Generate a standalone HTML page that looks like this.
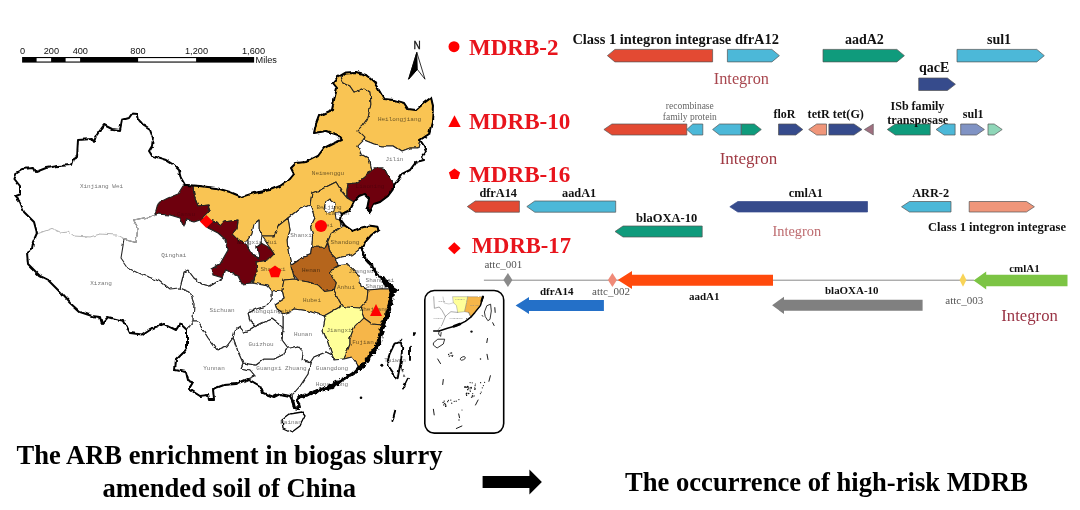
<!DOCTYPE html>
<html lang="en"><head><meta charset="utf-8"><title>Graphical abstract</title>
<style>html,body{margin:0;padding:0;background:#fff}svg{display:block;filter:blur(0.4px)}</style></head>
<body>
<svg width="1080" height="510" viewBox="0 0 1080 510">
<rect width="1080" height="510" fill="#fff"/>
<defs><filter id="rough" x="-2%" y="-2%" width="104%" height="104%"><feTurbulence type="fractalNoise" baseFrequency="0.14" numOctaves="2" seed="7" result="n"/><feDisplacementMap in="SourceGraphic" in2="n" scale="3.4" xChannelSelector="R" yChannelSelector="G"/></filter><filter id="rough3" x="-5%" y="-5%" width="110%" height="110%"><feTurbulence type="fractalNoise" baseFrequency="0.5" numOctaves="2" seed="5" result="n"/><feDisplacementMap in="SourceGraphic" in2="n" scale="1.6" xChannelSelector="R" yChannelSelector="G"/></filter></defs>
<g id="map" stroke-linejoin="round" stroke-linecap="round" filter="url(#rough)">
<polygon points="15,196 20,194 20,186 14.4,179 17,172 22,169 34,168 36,172 46,168 58,166 71,165 73,159 77,157 78,140 92,139 94,142 96,136 104,125 112,129 120,130 122,120 129,118 132,113.6 137.6,114 139,120 144,126 150,130 153,138 152,146 149,151 152,155.6 166,160 174,165 179,170 181,178 185,185 186,185 200,186 216,188 230,192 242,197 254,193 270,190 280,186 290,179 294,174 291,168 296,163 306,162 310,160 318,156 324,148 334,143 342,140 338,135 326,131 314,133 316,124 319,116 332,110 334,100 337,88 333,83 338,77 346,72.4 356,72 366,75 374,82 380,92 384,99 394,100 404,103 408,109 416,110 424,103 431,97.6 433,106 432,122 429,134 420,140 424,146 426,152 422,157 424,160 416,162 410,170 402,174 398,180 394,185 394,188 388,196 380,202 374,204 370,212 367,208 369,198 365,194 360,196 354,202 350,210 342,214 341,220 345,225.6 352.6,231 361.2,227.7 368.7,225.6 377.4,226.7 378.4,230 371,235.3 365.5,241.8 361.2,248.2 364.4,257 372,265.5 376.3,274 385,280.6 390,286 391,289 390,300 386,316 382,325 380.5,333 377.5,345 371,354 364.5,363 360,368 352,374 342,380 332,387 320,390 310,394 299,397 297,400 299,409 294,408 292,400 290,396 280,394 274,397 263,393 260,386 248,379 236,384 224,385 213,389 214,400 209,400 208,395 200,396 189,389 193,382 188,380 186,372 175,370 176,360 184,352 187,348 187,330 180,323.6 176,330 164,324 150,329 142,334.4 130,333 124,321 108,317 102,324 100,317 92,316 80,312 70,303 60,292 48,280 40,276 28,264 27,253 32,250 33,242 37,233 34,222 24,212 20,202" fill="#fff" stroke="none"/>
<polygon points="186,185 200,186 216,188 230,192 242,197 254,193 270,190 280,186 290,179 294,174 291,168 296,163 306,162 310,160 318,156 324,148 334,143 342,140 338,135 326,131 314,133 316,124 319,116 332,110 334,100 337,88 333,83 338,77 341,77 344,83 350,86 354,92 364,88 370,92 371,104 368,118 362,126 358,130 365,137 364,140 358,146 361,154 368,158 370,162 372,170 364,178 356,183 348,184 347,190 347,198 342,192 336,182 330,185 320,190 312,193 310,205 298,210 288,218 278,226 274,236 262,236 259,228 259,220 254,224 252,234 248,240 244,242 238,240 232,234 237,228 238,220 224,222 220,226 216,222 202,218 210,210 208,205 198,206 194,196 193,186" fill="#f9c452" stroke="#222" stroke-width="1.05"/>
<polygon points="341,77 346,72.4 356,72 366,75 374,82 380,92 384,99 394,100 404,103 408,109 416,110 424,103 431,97.6 433,106 432,122 429,134 420,140 418,148 410,148 402,151 394,146 382,146 374,144 364,140 365,137 358,130 362,126 368,118 371,104 370,92 364,88 354,92 350,86 344,83" fill="#f9c452" stroke="#222" stroke-width="1.05"/>
<polygon points="364,140 374,144 382,146 394,146 402,151 410,148 418,148 420,140 424,146 426,152 422,157 424,160 416,162 410,170 402,174 398,180 394,185 388,176 384,168 374,168 372,170 370,162 368,158 361,154 358,146" fill="#fff" stroke="#222" stroke-width="1.05"/>
<polygon points="372,170 374,168 384,168 388,176 394,185 394,188 388,196 380,202 374,204 370,212 367,208 369,198 365,194 360,196 354,202 347,198 347,190 348,184 356,183 364,178" fill="#6e0608" stroke="#222" stroke-width="1.05"/>
<polygon points="310,205 312,193 320,190 330,185 336,182 342,192 347,198 354,202 350,210 342,214 341,220 342,226.7 331,234 327.7,241.8 325.6,247.2 311.6,247.2 312.6,235.3 310.5,226.7 314.8,218 312.6,211.6" fill="#f9c452" stroke="#222" stroke-width="1.05"/>
<polygon points="326,202 330,199 335,203 334,210 328,213 324,209" fill="#fff" stroke="#222" stroke-width="1.05"/>
<polygon points="335,212 339,212 342,214 341,220 336,219" fill="#fff" stroke="#222" stroke-width="1.05"/>
<polygon points="288,218 298,210 310,205 312.6,211.6 314.8,218 310.5,226.7 312.6,235.3 311.6,247.2 310.5,254.7 301.9,258 291,265.5 288,250 287,240 290,230" fill="#fff" stroke="#222" stroke-width="1.05"/>
<polygon points="331,234 342,226.7 345,225.6 352.6,231 361.2,227.7 368.7,225.6 377.4,226.7 378.4,230 371,235.3 365.5,241.8 361.2,248.2 352.6,254.7 341.8,257 336.4,259 330,252.6 327.7,241.8" fill="#f9c452" stroke="#222" stroke-width="1.05"/>
<polygon points="311.6,247.2 325.6,247.2 327.7,243 330,252.6 336.4,259 338.5,265.5 333,268.7 330,274 336.4,282.7 334.2,290.3 324.5,291.4 318,285 307.3,281.7 298.6,280.6 293.2,274 291,265.5 301.9,258 310.5,254.7" fill="#b5651d" stroke="#222" stroke-width="1.05"/>
<polygon points="262,236 274,236 278,226 288,218 290,230 287,240 288,250 291,265.5 293.2,274 295,279 284,280 282,290 272,291 268,286 252,283 257,272 256,262 268,260 274,254 270,248" fill="#f9c452" stroke="#222" stroke-width="1.05"/>
<polygon points="259,220 254,224 252,234 248,240 248,248 252,255 259,258 257,246 261,243 262,236 259,228" fill="#fff" stroke="#222" stroke-width="1.05"/>
<polygon points="186,185 193,186 194,196 198,206 208,205 210,210 202,218 216,222 220,226 224,222 238,220 237,228 232,234 238,240 244,242 248,248 252,255 259,258 257,246 261,243 270,248 274,254 268,260 256,262 257,272 251,283 242,284 238,276 226,270 223,278 213,275 211,269 220,264 228,250 226,240 218,233 208,228 200,220 194,222 186,220 184,226 180,218 170,215 155,214 158,203 168,198 178,194 183,186" fill="#6e0608" stroke="#222" stroke-width="1.05"/>
<polygon points="284,280 295,279 298.6,280.6 307.3,281.7 318,285 324.5,291.4 334.2,290.3 339,300 341,305.5 338,308 324,316 308,311 294,309 289,312 283,314 277,310 275,304 284,298 282,290" fill="#f9c452" stroke="#222" stroke-width="1.05"/>
<polygon points="338.5,265.5 348,264.4 354.7,271 359,276.3 361,286 368,290 367,300 360,308 346,307 341,305.5 339,300 334.2,290.3 336.4,282.7 330,274 333,268.7" fill="#f9c452" stroke="#222" stroke-width="1.05"/>
<polygon points="338.5,265.5 336.4,259 341.8,257 352.6,254.7 361.2,248.2 364.4,257 372,265.5 376.3,274 385,280.6 390,286 391,289 380,289 368,290 361,286 359,276.3 354.7,271 348,264.4" fill="#fff" stroke="#222" stroke-width="1.05"/>
<polygon points="368,290 380,289 391,289 390,300 386,316 382,325 372,324 364,318 360,308 367,300" fill="#f6b648" stroke="#222" stroke-width="1.05"/>
<polygon points="338,308 341,305.5 346,307 360,308 364,318 354,328 350,338 350,344 347,352 344,359 334,360 331,352 327,340 323,330 325,318 324,316" fill="#ffff99" stroke="#222" stroke-width="1.05"/>
<polygon points="364,318 372,324 382,325 380.5,333 377.5,345 371,354 364.5,363 359,367 352,357 344,359 347,352 350,344 350,338 354,328" fill="#f6b648" stroke="#222" stroke-width="1.05"/>
<polygon points="289,312 294,309 308,311 324,316 325,318 323,330 327,340 331,352 332,355 326,352 314,357 310,363 302,360 303,352 298,346 286,349 288,348 282,340 283,328 283,314" fill="#fff" stroke="#222" stroke-width="1.05"/>
<polygon points="310,363 314,357 326,352 332,355 334,360 344,359 352,357 359,367 360,368 352,374 342,380 332,387 320,390 310,394 299,397 297,400 299,409 294,408 292,400 293,394 300,386 308,374" fill="#fff" stroke="#222" stroke-width="1.05"/>
<polygon points="243,363 256,365 264,359 274,359 284,354 286,349 298,346 303,352 302,360 310,363 308,374 300,386 293,394 290,396 280,394 274,397 263,393 260,386 248,379 255,376 250,370 241,368" fill="#fff" stroke="#222" stroke-width="1.05"/>
<polygon points="256,326 262,323 272,319 280,325 283,328 282,340 288,348 286,349 284,354 274,359 264,359 256,365 243,363 238,352 234,340 233,338 235,330 240,327 244,332 250,330" fill="#fff" stroke="#222" stroke-width="1.05"/>
<polygon points="272,291 282,290 284,298 275,304 277,310 283,314 283,328 280,325 272,319 262,323 256,326 250,321 248,313 256,309 266,306 272,299" fill="#fff" stroke="#222" stroke-width="1.05"/>
<polygon points="180,288 184,272 188,270 194,278 202,284 210,286 220,280 223,278 226,270 238,276 242,284 252,283 268,286 272,291 272,299 266,306 256,309 248,313 250,321 256,326 250,330 244,332 240,327 235,330 233,338 227,346 217,350 208,338 198,322 193,322 193,320 194,304 190,292" fill="#fff" stroke="#222" stroke-width="1.05"/>
<polygon points="193,322 198,322 208,338 217,350 227,346 233,338 234,340 238,352 243,363 241,368 250,370 255,376 248,379 236,384 224,385 213,389 214,400 209,400 208,395 200,396 189,389 193,382 188,380 186,372 175,370 176,360 184,352 187,348 187,330" fill="#fff" stroke="#222" stroke-width="1.05"/>
<polygon points="124,239.6 136,242.4 138,228 133.6,220 156,215.6 155,214 170,215 180,218 184,226 186,220 194,222 200,220 208,228 218,233 226,240 228,250 220,264 211,269 213,275 223,278 220,280 210,286 202,284 194,278 188,270 184,272 180,288 170,289 160,281 140,274 128,268 121,258" fill="#fff" stroke="#222" stroke-width="1.05"/>
<polyline points="38,233.6 52,228.4 60,232 68,231 74,236 90,237 100,234 116,235 124,239.6 136,242.4 138,228 133.6,220 156,215.6" fill="none" stroke="#b5b5b5" stroke-width="1"/>
<polyline points="180,288 190,292 194,304 193,320 187,330" fill="none" stroke="#3a3a3a" stroke-width="0.7"/>
<polygon points="15,196 20,194 20,186 14.4,179 17,172 22,169 34,168 36,172 46,168 58,166 71,165 73,159 77,157 78,140 92,139 94,142 96,136 104,125 112,129 120,130 122,120 129,118 132,113.6 137.6,114 139,120 144,126 150,130 153,138 152,146 149,151 152,155.6 166,160 174,165 179,170 181,178 185,185 186,185 200,186 216,188 230,192 242,197 254,193 270,190 280,186 290,179 294,174 291,168 296,163 306,162 310,160 318,156 324,148 334,143 342,140 338,135 326,131 314,133 316,124 319,116 332,110 334,100 337,88 333,83 338,77 346,72.4 356,72 366,75 374,82 380,92 384,99 394,100 404,103 408,109 416,110 424,103 431,97.6 433,106 432,122 429,134 420,140 424,146 426,152 422,157 424,160 416,162 410,170 402,174 398,180 394,185 394,188 388,196 380,202 374,204 370,212 367,208 369,198 365,194 360,196 354,202 350,210 342,214 341,220 345,225.6 352.6,231 361.2,227.7 368.7,225.6 377.4,226.7 378.4,230 371,235.3 365.5,241.8 361.2,248.2 364.4,257 372,265.5 376.3,274 385,280.6 390,286 391,289 390,300 386,316 382,325 380.5,333 377.5,345 371,354 364.5,363 360,368 352,374 342,380 332,387 320,390 310,394 299,397 297,400 299,409 294,408 292,400 290,396 280,394 274,397 263,393 260,386 248,379 236,384 224,385 213,389 214,400 209,400 208,395 200,396 189,389 193,382 188,380 186,372 175,370 176,360 184,352 187,348 187,330 180,323.6 176,330 164,324 150,329 142,334.4 130,333 124,321 108,317 102,324 100,317 92,316 80,312 70,303 60,292 48,280 40,276 28,264 27,253 32,250 33,242 37,233 34,222 24,212 20,202" fill="none" stroke="#000" stroke-width="2"/>
</g>
<defs><filter id="rough2" x="-5%" y="-5%" width="110%" height="110%"><feTurbulence type="fractalNoise" baseFrequency="0.35" numOctaves="2" seed="11" result="n"/><feDisplacementMap in="SourceGraphic" in2="n" scale="5" xChannelSelector="R" yChannelSelector="G"/></filter></defs>
<g fill="none" stroke="#000" stroke-linejoin="round" stroke-linecap="round" filter="url(#rough2)">
<polyline points="361.2,248.2 364.4,257 372,265.5 376.3,274 385,280.6 390,286" stroke-width="2.2"/>
<polyline points="390.5,286 392,289 391,300 387,316 383,325 381,333 378,345 371.5,354 365,363 360,368" stroke-width="4.4"/>
<polyline points="360,368 352,374 342,380 332,387 320,390 310,394 299,397" stroke-width="3"/>
<polyline points="383,279 386,285" stroke-width="4"/>
<polyline points="391,288 396,291" stroke-width="4"/>
<polyline points="327,388 337,383" stroke-width="5"/>
<polyline points="292.5,400 294,408 299,409 297.5,400" stroke-width="2.2"/>
<polyline points="367,208 370,212" stroke-width="2.6"/>
</g>
<g stroke-linejoin="round" stroke-linecap="round" filter="url(#rough)">
<polygon points="282,420 283,428 292,432 300,426 305,416 302,412 290,414" fill="#fff" stroke="#000" stroke-width="1.3"/>
<polygon points="394.5,343.7 398,342.4 401,342.6 402.2,348 401.6,355 401,361 399,371 397.7,378.2 396.3,377.6 392.4,371.8 388.6,366.4 388,358.8 390,353 392.4,348" fill="#fff" stroke="#000" stroke-width="1.9"/>
<circle cx="381.8" cy="365.3" r="1.5" fill="#000"/>
<polyline points="410,347.6 410,360" fill="none" stroke="#000" stroke-width="1.9"/>
<polyline points="407.9,378.7 403,388.6" fill="none" stroke="#000" stroke-width="1.9"/>
<polyline points="395.2,410.6 392.4,421" fill="none" stroke="#000" stroke-width="1.9"/>
<polyline points="413.8,335 415,333" fill="none" stroke="#000" stroke-width="1.9"/>
<polyline points="400.6,340.4 401.4,339.2" fill="none" stroke="#000" stroke-width="1.9"/>
<polyline points="402,369 402.4,370.2" fill="none" stroke="#000" stroke-width="1.9"/>
<polyline points="404,374.6 404.6,375.6" fill="none" stroke="#000" stroke-width="1.9"/>
<circle cx="361" cy="397.7" r="1.3" fill="#000"/>
</g>
<g font-family="'Liberation Mono', 'DejaVu Sans Mono', monospace" font-size="6" fill="#757575" text-anchor="middle" style="mix-blend-mode:multiply">
<text x="101.5" y="188.3">Xinjiang Wei</text>
<text x="173.8" y="257.3">Qinghai</text>
<text x="101" y="285">Xizang</text>
<text x="222" y="312">Sichuan</text>
<text x="214" y="370">Yunnan</text>
<text x="261" y="345.5">Guizhou</text>
<text x="281.5" y="370">Guangxi Zhuang</text>
<text x="332" y="370">Guangdong</text>
<text x="332" y="385.5">Hong Kong</text>
<text x="291" y="423.5">Hainan</text>
<text x="303" y="336">Hunan</text>
<text x="339" y="332">Jiangxi</text>
<text x="363" y="344">Fujian</text>
<text x="312" y="301.5">Hubei</text>
<text x="346" y="288.5">Anhui</text>
<text x="311" y="272">Henan</text>
<text x="273" y="271.3">Shaanxi</text>
<text x="361" y="273">Jiangsu</text>
<text x="380" y="282">Shanghai</text>
<text x="380" y="288">Shanghai</text>
<text x="374" y="311">Zhejiang</text>
<text x="270" y="313">Chongqingshi</text>
<text x="328" y="175">Neimenggu</text>
<text x="301" y="237">Shanxi</text>
<text x="345" y="243.5">Shandong</text>
<text x="329" y="209">Beijing</text>
<text x="337" y="215">Tianjin</text>
<text x="324" y="227">Hebei</text>
<text x="257" y="243.5">Ningxia Hui</text>
<text x="186" y="216" opacity="0.4">Gansu</text>
<text x="399.5" y="120.5">Heilongjiang</text>
<text x="394.4" y="161.3">Jilin</text>
<text x="370" y="188" opacity="0.4">Liaoning</text>
<text x="395" y="362.3">Taiwan</text>
</g>
<g fill="#ff0000">
<polygon points="206.4,214.9 212.9,221.4 206.4,227.9 199.9,221.4"/>
<circle cx="321" cy="226" r="6"/>
<polygon points="275,265.5 281.3,270 278.9,277.3 271.1,277.3 268.7,270"/>
<polygon points="376,304 382,316 370,316"/>
</g>
<g id="inset">
<rect x="424.8" y="290.5" width="78.9" height="142.6" rx="9.5" ry="9.5" fill="#fff" stroke="#000" stroke-width="1.6"/>
<g filter="url(#rough3)" stroke-linejoin="round" stroke-linecap="round">
<polygon points="452.9,296.7 468,296.7 466,305.6 464.6,311.7 457.7,312.4 456.4,305.6 453.6,302.8" fill="#ffff99" stroke="#777" stroke-width="0.4"/>
<polygon points="468,296.7 483.1,296.7 480.4,305.6 474.9,312.4 470.8,317.2 468.7,312.4 464.6,311.7 466,305.6" fill="#f6b648" stroke="#777" stroke-width="0.4"/>
<polyline points="433.7,296.7 434.4,308.3 439.2,307 442,310.4 445.4,316.5 447.4,314.5 450.9,311.7 457.7,312.4" fill="none" stroke="#555" stroke-width="0.5"/>
<polyline points="445.4,316.5 442,324.8 437.8,330.3" fill="none" stroke="#555" stroke-width="0.5"/>
<polyline points="443,297 444,303 449,304 453.6,302.8" fill="none" stroke="#888" stroke-width="0.4"/>
<polyline points="468.7,312.4 470.8,317.2" fill="none" stroke="#555" stroke-width="0.4"/>
<polyline points="483,296.7 480.4,305.6 474.9,312.4 470.8,317.2 465.3,321.4 457,325.5 447.4,328.2 439.2,331 433.7,331" fill="none" stroke="#000" stroke-width="1.5"/>
<polyline points="454,326.3 460,324" fill="none" stroke="#000" stroke-width="2.6"/>
<polyline points="481.5,301 483,296.7" fill="none" stroke="#000" stroke-width="2.2"/>
<polygon points="433.7,342.6 437.8,339.2 444.7,339.2 443.3,344 437.1,348 433.7,345.4" fill="#fff" stroke="#000" stroke-width="0.8"/>
<polyline points="439.2,331 438.6,334 440.6,336.4 441.2,332.5" fill="none" stroke="#000" stroke-width="0.8"/>
<polygon points="487.2,305.6 490.6,304.2 491.3,311 490,319.3 487.9,320.7 485.2,316.5 484.5,312.4" fill="#fff" stroke="#000" stroke-width="0.8"/>
</g>
<polyline points="487.5,338.5 486.8,342.6" fill="none" stroke="#000" stroke-width="0.9" stroke-linecap="round"/>
<polyline points="494.8,307.6 495.2,312.4" fill="none" stroke="#000" stroke-width="0.9" stroke-linecap="round"/>
<polyline points="492.7,322.7 494.1,325.5" fill="none" stroke="#000" stroke-width="0.9" stroke-linecap="round"/>
<polyline points="487,354.3 488,359.5" fill="none" stroke="#000" stroke-width="0.9" stroke-linecap="round"/>
<polyline points="490.4,375.7 488.9,381.3" fill="none" stroke="#000" stroke-width="0.9" stroke-linecap="round"/>
<polyline points="478.1,400 475.5,405" fill="none" stroke="#000" stroke-width="0.9" stroke-linecap="round"/>
<polyline points="458.7,413.9 459.5,417.7" fill="none" stroke="#000" stroke-width="0.9" stroke-linecap="round"/>
<polyline points="456.3,428.5 461.9,426" fill="none" stroke="#000" stroke-width="0.9" stroke-linecap="round"/>
<polyline points="433.4,409.3 434.2,414.9" fill="none" stroke="#000" stroke-width="0.9" stroke-linecap="round"/>
<polyline points="443.3,379.5 442.7,384.5" fill="none" stroke="#000" stroke-width="0.9" stroke-linecap="round"/>
<polyline points="437.7,359 440.5,363.6" fill="none" stroke="#000" stroke-width="0.9" stroke-linecap="round"/>
<polyline points="482.2,315.5 482.8,316.3" fill="none" stroke="#000" stroke-width="0.9" stroke-linecap="round"/>
<ellipse cx="462.8" cy="358.4" rx="2.7" ry="1.5" fill="none" stroke="#000" stroke-width="0.7" transform="rotate(-25 462.8 358.4)"/>
<circle cx="448.6" cy="354.5" r="0.65" fill="#111"/>
<circle cx="451.6" cy="353.0" r="0.65" fill="#111"/>
<circle cx="450.3" cy="353.1" r="0.65" fill="#111"/>
<circle cx="452.3" cy="356.3" r="0.65" fill="#111"/>
<circle cx="452.7" cy="355.3" r="0.65" fill="#111"/>
<circle cx="451.1" cy="355.6" r="0.65" fill="#111"/>
<circle cx="449.3" cy="356.2" r="0.65" fill="#111"/>
<circle cx="465.2" cy="387.1" r="0.78" fill="#111"/>
<circle cx="468.8" cy="388.1" r="0.78" fill="#111"/>
<circle cx="466.8" cy="393.3" r="0.78" fill="#111"/>
<circle cx="467.6" cy="386.6" r="0.78" fill="#111"/>
<circle cx="467.8" cy="386.7" r="0.78" fill="#111"/>
<circle cx="466.8" cy="387.2" r="0.78" fill="#111"/>
<circle cx="471.1" cy="388.1" r="0.78" fill="#111"/>
<circle cx="467.8" cy="389.6" r="0.78" fill="#111"/>
<circle cx="471.1" cy="387.5" r="0.78" fill="#111"/>
<circle cx="466.4" cy="393.9" r="0.78" fill="#111"/>
<circle cx="464.9" cy="387.1" r="0.78" fill="#111"/>
<circle cx="468.7" cy="393.5" r="0.78" fill="#111"/>
<circle cx="480.4" cy="393.6" r="0.59" fill="#111"/>
<circle cx="483.4" cy="385.6" r="0.59" fill="#111"/>
<circle cx="475.4" cy="384.0" r="0.59" fill="#111"/>
<circle cx="472.2" cy="382.8" r="0.59" fill="#111"/>
<circle cx="474.5" cy="389.2" r="0.59" fill="#111"/>
<circle cx="470.1" cy="390.1" r="0.59" fill="#111"/>
<circle cx="475.1" cy="385.7" r="0.59" fill="#111"/>
<circle cx="482.3" cy="387.8" r="0.59" fill="#111"/>
<circle cx="474.7" cy="387.8" r="0.59" fill="#111"/>
<circle cx="480.6" cy="382.7" r="0.59" fill="#111"/>
<circle cx="484.6" cy="382.3" r="0.59" fill="#111"/>
<circle cx="481.2" cy="392.1" r="0.59" fill="#111"/>
<circle cx="470.3" cy="391.5" r="0.59" fill="#111"/>
<circle cx="475.5" cy="388.9" r="0.59" fill="#111"/>
<circle cx="470.1" cy="382.6" r="0.59" fill="#111"/>
<circle cx="472.7" cy="393.5" r="0.59" fill="#111"/>
<circle cx="448.4" cy="400.3" r="0.65" fill="#111"/>
<circle cx="471.5" cy="397.2" r="0.65" fill="#111"/>
<circle cx="458.9" cy="399.6" r="0.65" fill="#111"/>
<circle cx="466.6" cy="395.4" r="0.65" fill="#111"/>
<circle cx="443.7" cy="404.9" r="0.65" fill="#111"/>
<circle cx="450.8" cy="400.1" r="0.65" fill="#111"/>
<circle cx="454.2" cy="401.3" r="0.65" fill="#111"/>
<circle cx="451.7" cy="403.2" r="0.65" fill="#111"/>
<circle cx="445.6" cy="406.4" r="0.65" fill="#111"/>
<circle cx="474.1" cy="395.9" r="0.65" fill="#111"/>
<circle cx="472.4" cy="395.3" r="0.65" fill="#111"/>
<circle cx="447.7" cy="401.7" r="0.65" fill="#111"/>
<circle cx="456.2" cy="401.2" r="0.65" fill="#111"/>
<circle cx="472.7" cy="396.7" r="0.65" fill="#111"/>
<circle cx="444.8" cy="403.5" r="0.72" fill="#111"/>
<circle cx="444.2" cy="401.1" r="0.72" fill="#111"/>
<circle cx="443.1" cy="402.5" r="0.72" fill="#111"/>
<circle cx="445.5" cy="404.8" r="0.72" fill="#111"/>
<circle cx="445.9" cy="405.9" r="0.72" fill="#111"/>
<circle cx="471.5" cy="331.6" r="1.17" fill="#111"/>
<circle cx="480.5" cy="359.0" r="0.78" fill="#111"/>
<circle cx="459.0" cy="420.0" r="0.65" fill="#111"/>
<circle cx="462.0" cy="410.0" r="0.52" fill="#111"/>
<g font-family="'Liberation Mono', monospace" font-size="2.4" fill="#888" text-anchor="middle"><text x="441.5" y="301.5">Hunan</text><text x="460" y="300">Jiangxi</text><text x="474.5" y="306">Fujian</text><text x="438.5" y="318.6">Guangxi</text><text x="456" y="318.6">Guangdong</text></g>
</g>
<g id="scale">
<rect x="22.1" y="57" width="232" height="5.6" fill="#000"/>
<rect x="36.6" y="58.1" width="14.5" height="3.4" fill="#fff"/>
<rect x="65.6" y="58.1" width="14.5" height="3.4" fill="#fff"/>
<rect x="138.1" y="58.1" width="58.0" height="3.4" fill="#fff"/>
<g font-family="'Liberation Sans', sans-serif" font-size="9.2" fill="#111" text-anchor="middle">
<text x="22.6" y="53.8">0</text>
<text x="51.4" y="53.8">200</text>
<text x="80.3" y="53.8">400</text>
<text x="138" y="53.8">800</text>
<text x="196.5" y="53.8">1,200</text>
<text x="253.5" y="53.8">1,600</text>
<text x="255.5" y="62.8" text-anchor="start">Miles</text>
</g></g>
<g id="north"><text x="417" y="48.8" font-family="'Liberation Sans', sans-serif" font-size="10" text-anchor="middle" fill="#111" stroke="#111" stroke-width="0.3">N</text>
<polygon points="416.8,52.4 425,79.2 417.3,69.4 408.6,79.2" fill="#fff" stroke="#000" stroke-width="0.8" stroke-linejoin="miter"/>
<polygon points="416.8,52.4 417.3,69.4 408.6,79.2" fill="#000" stroke="#000" stroke-width="0.8"/></g>
<g id="genes">
<polygon points="712.6,49.4 614.9,49.4 607.4,55.65 614.9,61.9 712.6,61.9" fill="#e34a33" stroke="#555" stroke-width="0.7"/>
<polygon points="727.4,49.4 771.9,49.4 779.4,55.65 771.9,61.9 727.4,61.9" fill="#4cb8d8" stroke="#555" stroke-width="0.7"/>
<polygon points="823,49.4 896.9,49.4 904.4,55.65 896.9,61.9 823,61.9" fill="#0f9b7c" stroke="#555" stroke-width="0.7"/>
<polygon points="957,49.4 1036.8,49.4 1044.3,55.65 1036.8,61.9 957,61.9" fill="#4cb8d8" stroke="#555" stroke-width="0.7"/>
<polygon points="918.7,78 947.4,78 955.4,84.25 947.4,90.5 918.7,90.5" fill="#364b8c" stroke="#555" stroke-width="0.7"/>
<polygon points="686.8,124 611.9,124 603.9,129.5 611.9,135 686.8,135" fill="#e34a33" stroke="#555" stroke-width="0.7"/>
<polygon points="702.8,124 692.8,124 686.8,129.5 692.8,135 702.8,135" fill="#4cb8d8" stroke="#555" stroke-width="0.7"/>
<polygon points="741.3,124 719.6,124 712.6,129.5 719.6,135 741.3,135" fill="#4cb8d8" stroke="#555" stroke-width="0.7"/>
<polygon points="741.3,124 754.3,124 761.3,129.5 754.3,135 741.3,135" fill="#0f9b7c" stroke="#555" stroke-width="0.7"/>
<polygon points="778.5,124 795.8,124 802.8,129.5 795.8,135 778.5,135" fill="#364b8c" stroke="#555" stroke-width="0.7"/>
<polygon points="826.5,124 816.7,124 808.7,129.5 816.7,135 826.5,135" fill="#f0967a" stroke="#555" stroke-width="0.7"/>
<polygon points="828.9,124 854,124 862,129.5 854,135 828.9,135" fill="#364b8c" stroke="#555" stroke-width="0.7"/>
<polygon points="864.4,129.5 873.3,124 873.3,135" fill="#a07080" stroke="#555" stroke-width="0.6"/>
<polygon points="930.2,124 895.3,124 887.3,129.5 895.3,135 930.2,135" fill="#0f9b7c" stroke="#555" stroke-width="0.7"/>
<polygon points="955.1,124 944.1,124 936.1,129.5 944.1,135 955.1,135" fill="#4cb8d8" stroke="#555" stroke-width="0.7"/>
<polygon points="960.7,124 976.4,124 984.4,129.5 976.4,135 960.7,135" fill="#8093c4" stroke="#555" stroke-width="0.7"/>
<polygon points="988,124 994.2,124 1002.2,129.5 994.2,135 988,135" fill="#8fd6b8" stroke="#555" stroke-width="0.7"/>
<polygon points="519.4,201 475.3,201 467.3,206.6 475.3,212.2 519.4,212.2" fill="#e34a33" stroke="#555" stroke-width="0.7"/>
<polygon points="615.7,201 534.8,201 526.8,206.6 534.8,212.2 615.7,212.2" fill="#4cb8d8" stroke="#555" stroke-width="0.7"/>
<polygon points="702.2,226 623,226 615,231.5 623,237 702.2,237" fill="#0f9b7c" stroke="#555" stroke-width="0.7"/>
<polygon points="867.5,201.5 737.8,201.5 729.8,206.75 737.8,212 867.5,212" fill="#364b8c" stroke="#364b8c" stroke-width="0.7"/>
<polygon points="951,201.5 909.5,201.5 901.5,206.75 909.5,212 951,212" fill="#4cb8d8" stroke="#555" stroke-width="0.7"/>
<polygon points="969.2,201.5 1026.4,201.5 1034.4,206.75 1026.4,212 969.2,212" fill="#f0967a" stroke="#555" stroke-width="0.7"/>
<line x1="483.9" y1="280.2" x2="974" y2="280.2" stroke="#6a6a6a" stroke-width="0.8"/>
<polygon points="507.9,273 512.4,280 507.9,287 503.4,280" fill="#8a8a8a"/>
<polygon points="612.4,273 616.9,280 612.4,287 607.9,280" fill="#f08a78"/>
<polygon points="963,273.3 966.5,280 963,286.7 959.5,280" fill="#f8d458"/>
<polygon points="617.8,280 632,271 632,274.7 773,274.7 773,285.7 632,285.7 632,289" fill="#ff4a0c"/>
<polygon points="973.6,280.45 986.2,271.5 986.2,274.7 1067.5,274.7 1067.5,286.2 986.2,286.2 986.2,289.4" fill="#7cc444"/>
<polygon points="515.6,305.5 529,297 529,300 603.9,300 603.9,311 529,311 529,314" fill="#2470c8"/>
<polygon points="772.1,305.35 784,296.7 784,299.8 922.6,299.8 922.6,310.8 784,310.8 784,314" fill="#808080"/>
</g>
<g id="texts">
<circle cx="454" cy="46.7" r="5.5" fill="#f00"/>
<polygon points="454.5,115.2 460.7,127 448.3,127" fill="#f00"/>
<polygon points="454.5,168.4 460.1,172.4 458,179 451,179 448.9,172.4" fill="#f00"/>
<polygon points="454.3,242.3 460.6,248.3 454.3,254.3 448,248.3" fill="#f00"/>
<text x="469" y="54.5" font-family="'Liberation Serif', serif" font-size="23" font-weight="bold" fill="#e8141c" text-anchor="start" textLength="89.5" lengthAdjust="spacingAndGlyphs">MDRB-2</text>
<text x="469" y="129.4" font-family="'Liberation Serif', serif" font-size="23" font-weight="bold" fill="#e8141c" text-anchor="start" textLength="101.4" lengthAdjust="spacingAndGlyphs">MDRB-10</text>
<text x="469" y="181.7" font-family="'Liberation Serif', serif" font-size="23" font-weight="bold" fill="#e8141c" text-anchor="start" textLength="101.4" lengthAdjust="spacingAndGlyphs">MDRB-16</text>
<text x="471.7" y="253.3" font-family="'Liberation Serif', serif" font-size="23" font-weight="bold" fill="#e8141c" text-anchor="start" textLength="99.3" lengthAdjust="spacingAndGlyphs">MDRB-17</text>
<text x="572.4" y="44.3" font-family="'Liberation Serif', serif" font-size="14.4" font-weight="bold" fill="#111" text-anchor="start" textLength="206.6" lengthAdjust="spacingAndGlyphs">Class 1 integron integrase dfrA12</text>
<text x="864.4" y="44.3" font-family="'Liberation Serif', serif" font-size="14" font-weight="bold" fill="#111" text-anchor="middle">aadA2</text>
<text x="999" y="44.3" font-family="'Liberation Serif', serif" font-size="14" font-weight="bold" fill="#111" text-anchor="middle">sul1</text>
<text x="919" y="71.9" font-family="'Liberation Serif', serif" font-size="14" font-weight="bold" fill="#111" text-anchor="start">qacE</text>
<text x="713.8" y="84" font-family="'Liberation Serif', serif" font-size="16.3" font-weight="normal" fill="#a8464e" text-anchor="start">Integron</text>
<text x="689.8" y="109.2" font-family="'Liberation Serif', serif" font-size="9.5" font-weight="normal" fill="#666" text-anchor="middle">recombinase</text>
<text x="689.8" y="120.4" font-family="'Liberation Serif', serif" font-size="9.5" font-weight="normal" fill="#666" text-anchor="middle">family protein</text>
<text x="773.5" y="117.5" font-family="'Liberation Serif', serif" font-size="12" font-weight="bold" fill="#111" text-anchor="start">floR</text>
<text x="807.6" y="117.5" font-family="'Liberation Serif', serif" font-size="12" font-weight="bold" fill="#111" text-anchor="start" textLength="56.3" lengthAdjust="spacingAndGlyphs">tetR tet(G)</text>
<text x="890.5" y="110" font-family="'Liberation Serif', serif" font-size="12" font-weight="bold" fill="#111" text-anchor="start" textLength="53.9" lengthAdjust="spacingAndGlyphs">ISb family</text>
<text x="887.3" y="123.5" font-family="'Liberation Serif', serif" font-size="12" font-weight="bold" fill="#111" text-anchor="start" textLength="61" lengthAdjust="spacingAndGlyphs">transposase</text>
<text x="962.8" y="117.5" font-family="'Liberation Serif', serif" font-size="12" font-weight="bold" fill="#111" text-anchor="start">sul1</text>
<text x="719.7" y="164" font-family="'Liberation Serif', serif" font-size="17" font-weight="normal" fill="#a03a44" text-anchor="start">Integron</text>
<text x="479.4" y="196.5" font-family="'Liberation Serif', serif" font-size="12.3" font-weight="bold" fill="#111" text-anchor="start">dfrA14</text>
<text x="562" y="196.5" font-family="'Liberation Serif', serif" font-size="12.3" font-weight="bold" fill="#111" text-anchor="start">aadA1</text>
<text x="636" y="221.7" font-family="'Liberation Serif', serif" font-size="12.3" font-weight="bold" fill="#111" text-anchor="start" textLength="61.2" lengthAdjust="spacingAndGlyphs">blaOXA-10</text>
<text x="788.8" y="196.7" font-family="'Liberation Serif', serif" font-size="12.3" font-weight="bold" fill="#111" text-anchor="start">cmlA1</text>
<text x="912.2" y="196.7" font-family="'Liberation Serif', serif" font-size="12.3" font-weight="bold" fill="#111" text-anchor="start">ARR-2</text>
<text x="928" y="230.8" font-family="'Liberation Serif', serif" font-size="12.5" font-weight="bold" fill="#111" text-anchor="start" textLength="138" lengthAdjust="spacingAndGlyphs">Class 1 integron integrase</text>
<text x="772.4" y="235.5" font-family="'Liberation Serif', serif" font-size="14.4" font-weight="normal" fill="#bd6a6e" text-anchor="start">Integron</text>
<text x="484.4" y="268.1" font-family="'Liberation Serif', serif" font-size="11" font-weight="normal" fill="#555" text-anchor="start">attc_001</text>
<text x="592" y="294.8" font-family="'Liberation Serif', serif" font-size="11" font-weight="normal" fill="#555" text-anchor="start">attc_002</text>
<text x="945.3" y="304" font-family="'Liberation Serif', serif" font-size="11" font-weight="normal" fill="#555" text-anchor="start">attc_003</text>
<text x="539.9" y="294.8" font-family="'Liberation Serif', serif" font-size="11" font-weight="bold" fill="#111" text-anchor="start">dfrA14</text>
<text x="689" y="300" font-family="'Liberation Serif', serif" font-size="11" font-weight="bold" fill="#111" text-anchor="start">aadA1</text>
<text x="825" y="293.5" font-family="'Liberation Serif', serif" font-size="11" font-weight="bold" fill="#111" text-anchor="start" textLength="53.5" lengthAdjust="spacingAndGlyphs">blaOXA-10</text>
<text x="1009.2" y="271.5" font-family="'Liberation Serif', serif" font-size="11" font-weight="bold" fill="#111" text-anchor="start">cmlA1</text>
<text x="1001.3" y="321.2" font-family="'Liberation Serif', serif" font-size="16.7" font-weight="normal" fill="#993344" text-anchor="start">Integron</text>
<text x="16.5" y="464" font-family="'Liberation Serif', serif" font-size="26.6" font-weight="bold" fill="#000" text-anchor="start" textLength="426" lengthAdjust="spacingAndGlyphs">The ARB enrichment in biogas slurry</text>
<text x="102.5" y="496.5" font-family="'Liberation Serif', serif" font-size="26.6" font-weight="bold" fill="#000" text-anchor="start" textLength="253.5" lengthAdjust="spacingAndGlyphs">amended soil of China</text>
<text x="625" y="490.7" font-family="'Liberation Serif', serif" font-size="26.6" font-weight="bold" fill="#000" text-anchor="start" textLength="403" lengthAdjust="spacingAndGlyphs">The occurrence of high-risk MDRB</text>
<polygon points="482.6,476 529.4,476 529.4,469.4 541.9,482 529.4,494.4 529.4,488 482.6,488" fill="#000"/>
</g>
</svg>
</body></html>
